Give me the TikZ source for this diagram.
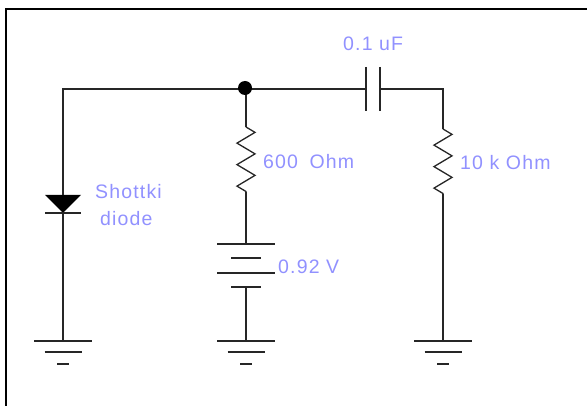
\documentclass[tikz,border=0pt]{standalone}
\usepackage{fontspec}
\setmainfont[LetterSpace=6]{Liberation Sans}
\usepackage{xcolor}
\usetikzlibrary{decorations.pathmorphing}
\definecolor{labelblue}{RGB}{145,145,255}
\tikzset{
	wire/.style={line width=1.3pt,color=black!85},
	resistor/.style={wire,decorate,decoration={zigzag,segment length=21.5pt,amplitude=9pt}},
	lab/.style={font=\fontsize{19.5}{20}\selectfont,text=labelblue,inner sep=0pt,anchor=west}
}
\begin{document}
\begin{tikzpicture}[x=1pt,y=-1pt]
		\useasboundingbox (0,0) rectangle (587,406);
		\draw[line width=2pt] (6,406) -- (6,9) -- (587,9);

		\coordinate (corner) at (63,89);
		\coordinate (tee) at (246,89);
		\coordinate (capL) at (366,89);
		\coordinate (capR) at (380,89);
		\coordinate (cornerR) at (443,89);

		% diode
		\coordinate (diodeTop) at (63,195);
		\coordinate (diodeBot) at (63,213);
		\fill (45,195) -- (81,195) -- (diodeBot) -- cycle;
		\draw[wire] (45,213) -- (81,213);

		% grounds
		\foreach \x/\n in {63/a,246/b,443/c}{
			\coordinate (gnd\n) at (\x,341);
			\draw[wire] (\x-29,341) -- (\x+29,341);
			\draw[wire] (\x-18.5,352) -- (\x+18.5,352);
			\draw[wire] (\x-6,364) -- (\x+6,364);
		}

		% resistors
		\coordinate (resAtop) at (246,127);
		\coordinate (resAbot) at (246,192);
		\coordinate (resBtop) at (443,129);
		\coordinate (resBbot) at (443,194);
		\draw[resistor] (resAtop) -- (resAbot);
		\draw[resistor] (resBtop) -- (resBbot);

		% battery
		\coordinate (batTop) at (246,244);
		\coordinate (batBot) at (246,287);
		\draw[wire] (217,244) -- (275,244);
		\draw[wire] (231,258) -- (261,258);
		\draw[wire] (217,273) -- (275,273);
		\draw[wire] (231,287) -- (261,287);

		% capacitor
		\draw[wire] (366,67) -- (366,111);
		\draw[wire] (380,67) -- (380,111);

		% wires
		\draw[wire] (diodeTop) -- (corner) -- (tee) -- (capL);
		\draw[wire] (capR) -- (cornerR) -- (resBtop);
		\draw[wire] (tee) -- (resAtop);
		\draw[wire] (resAbot) -- (batTop);
		\draw[wire] (batBot) -- (gndb);
		\draw[wire] (resBbot) -- (gndc);
		\draw[wire] (diodeBot) -- (gnda);
		\node[circle,fill=black,inner sep=0pt,minimum size=14pt] (junction) at (245,88) {};

		% labels
		\node[lab] (capLabel) at (343,44) {0.1 uF};
		\node[lab] (resALabel) at (263,162) {600\hspace{0.25em} Ohm};
		\node[lab] (resBLabel) at (460,163) {10 k Ohm};
		\node[lab] (diodeLabelA) at (95,192) {Shottki};
		\node[lab] (diodeLabelB) at (100,219) {diode};
		\node[lab] (batLabel) at (278,267) {0.92 V};
\end{tikzpicture}
\end{document}
